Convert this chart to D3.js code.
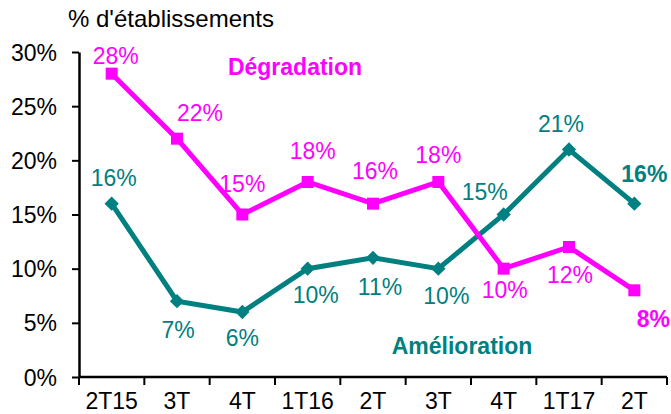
<!DOCTYPE html>
<html>
<head>
<meta charset="utf-8">
<script src="https://cdn.jsdelivr.net/npm/d3@7"></script>
<style>
  body { margin: 0; background: #fff; }
  text { font-family: "Liberation Sans", Arial, sans-serif; }
</style>
</head>
<body>
<svg class="chart"></svg>
<script>
// data
var quarters = ['2T15', '3T', '4T', '1T16', '2T', '3T ', '4T ', '1T17', '2T '];
var tickLabels = ['2T15', '3T', '4T', '1T16', '2T', '3T', '4T', '1T17', '2T'];
var degradation = [28, 22, 15, 18, 16, 18, 10, 12, 8];
var amelioration = [16, 7, 6, 10, 11, 10, 15, 21, 16];
var yTicks = [0, 5, 10, 15, 20, 25, 30];

// label offsets from each point (layout only)
var degOffsets = [[4, -10], [23, -18], [0, -23], [5, -23], [2, -25], [0, -19], [1, 29], [1, 36], [19, 37]];
var amelOffsets = [[2, -18], [1, 37], [0, 34], [8, 34], [7, 37], [8, 35], [-19, -15], [-8, -18], [10, -22]];

var W = 671, H = 414;
var margin = {top: 52, right: 4, bottom: 37, left: 79},
    width = W - margin.left - margin.right,
    height = H - margin.top - margin.bottom;

var pink = '#ff00ff', teal = '#008080';
var fs = '23px';

var chart = d3.select('.chart')
  .attr('width', W)
  .attr('height', H);

var x = d3.scaleBand().domain(quarters).range([0, width]),
    y = d3.scaleLinear().domain([0, 30]).range([height, 0]);

var g = chart.append('g')
  .attr('transform', 'translate(' + margin.left + ',' + margin.top + ')');

// y axis
var yAxis = g.append('g')
  .call(d3.axisLeft(y).tickValues(yTicks).tickSize(7).tickSizeOuter(0)
    .tickFormat(function(d) { return d + '%'; }));
yAxis.select('.domain').attr('stroke', '#000').attr('stroke-width', 2.5);
yAxis.selectAll('.tick line').attr('stroke', '#000').attr('stroke-width', 2);
yAxis.selectAll('.tick text')
  .attr('x', -22).attr('dy', '0.35em')
  .style('font-size', fs).attr('fill', '#000');

// x axis: ticks on band edges
var xAxis = g.append('g')
  .attr('transform', 'translate(0,' + height + ')');
xAxis.append('line')
  .attr('x1', 0).attr('x2', width)
  .attr('stroke', '#000').attr('stroke-width', 2.5);
var edges = quarters.map(function(d) { return x(d); }).concat([x.range()[1]]);
xAxis.selectAll('.xtick')
  .data(edges)
  .enter().append('line')
  .attr('x1', function(d) { return d; })
  .attr('x2', function(d) { return d; })
  .attr('y1', 0).attr('y2', 8)
  .attr('stroke', '#000').attr('stroke-width', 2);
xAxis.selectAll('.xlabel')
  .data(quarters)
  .enter().append('text')
  .attr('x', function(d) { return x(d) + x.bandwidth() / 2; })
  .attr('y', 32)
  .attr('text-anchor', 'middle')
  .style('font-size', fs)
  .text(function(d, i) { return tickLabels[i]; });

function cx(i) { return x(quarters[i]) + x.bandwidth() / 2; }

var line = d3.line()
  .x(function(d, i) { return cx(i); })
  .y(function(d) { return y(d); });

// lines
g.append('path').datum(amelioration)
  .attr('fill', 'none').attr('stroke', teal).attr('stroke-width', 5)
  .attr('d', line);
g.append('path').datum(degradation)
  .attr('fill', 'none').attr('stroke', pink).attr('stroke-width', 5)
  .attr('d', line);

// markers
g.selectAll('.diamond')
  .data(amelioration)
  .enter().append('path')
  .attr('d', d3.symbol().type(d3.symbolDiamond2).size(130))
  .attr('transform', function(d, i) { return 'translate(' + cx(i) + ',' + y(d) + ')'; })
  .attr('fill', teal);
g.selectAll('.square')
  .data(degradation)
  .enter().append('rect')
  .attr('x', function(d, i) { return cx(i) - 6; })
  .attr('y', function(d) { return y(d) - 6; })
  .attr('width', 12).attr('height', 12)
  .attr('fill', pink);

// value labels
function labels(data, offs, color) {
  g.selectAll(null)
    .data(data)
    .enter().append('text')
    .attr('x', function(d, i) { return cx(i) + offs[i][0]; })
    .attr('y', function(d, i) { return y(d) + offs[i][1]; })
    .attr('text-anchor', 'middle')
    .style('font-size', fs)
    .style('font-weight', function(d, i) { return i === data.length - 1 ? 'bold' : 'normal'; })
    .attr('fill', color)
    .text(function(d) { return d + '%'; });
}
labels(amelioration, amelOffsets, teal);
labels(degradation, degOffsets, pink);

// series names
chart.append('text')
  .attr('x', 295).attr('y', 75)
  .attr('text-anchor', 'middle')
  .style('font-size', fs).style('font-weight', 'bold')
  .attr('fill', pink)
  .text('Dégradation');
chart.append('text')
  .attr('x', 462).attr('y', 354)
  .attr('text-anchor', 'middle')
  .style('font-size', fs).style('font-weight', 'bold')
  .attr('fill', teal)
  .text('Amélioration');

// y title
chart.append('text')
  .attr('x', 68).attr('y', 27)
  .style('font-size', '24px')
  .attr('fill', '#000')
  .text("% d'établissements");
</script>
</body>
</html>
